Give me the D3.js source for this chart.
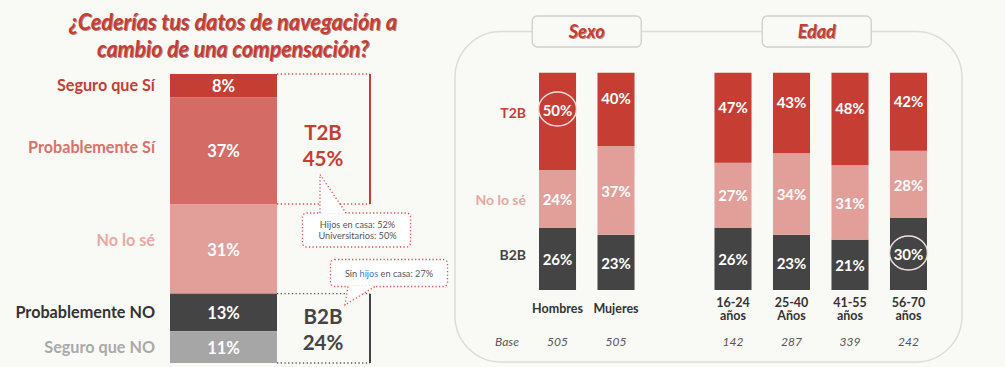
<!DOCTYPE html>
<html><head><meta charset="utf-8">
<script src="https://cdn.jsdelivr.net/npm/d3@7"></script>
<style>
html,body{margin:0;padding:0;background:#f9f9f5;}
svg{display:block;font-family:Lato,"Open Sans",sans-serif;}
</style></head>
<body>
<script>
// ---------- data ----------
const titleLines = ["¿Cederías tus datos de navegación a", "cambio de una compensación?"];
const leftCats = ["Seguro que Sí", "Probablemente Sí", "No lo sé", "Probablemente NO", "Seguro que NO"];
const leftVals = [8, 37, 31, 13, 11];
const t2bLabel = "T2B";
const b2bLabel = "B2B";
const calloutT2B = ["Hijos en casa: 52%", "Universitarios: 50%"];
const calloutB2B = ["Sin ", "hijos", " en casa: 27%"];

const groups = ["Hombres", "Mujeres", "16-24 años", "25-40 Años", "41-55 años", "56-70 años"];
const sections = ["Sexo", "Edad"];
const rowLabels = ["T2B", "No lo sé", "B2B"];
const t2bVals = [50, 40, 47, 43, 48, 42];
const noseVals = [24, 37, 27, 34, 31, 28];
const b2bVals = [26, 23, 26, 23, 21, 30];
const baseLabel = "Base";
const bases = [505, 505, 142, 287, 339, 242];
const highlighted = [{group: 0, row: 0}, {group: 5, row: 2}];

// ---------- styles ----------
const RED = "#c63d33", RED2 = "#d46c65", PINK = "#e29e99", DARK = "#444444", GREY = "#a6a6a6";
const leftColors = [RED, RED2, PINK, DARK, GREY];
const leftLabelColors = [RED, "#d8716a", "#e8a9a4", "#333333", "#a9a9a9"];
const BG = "#f9f9f5";

const W = 1005, H = 367;
const svg = d3.select("body").append("svg").attr("width", W).attr("height", H);
svg.append("rect").attr("width", W).attr("height", H).attr("fill", BG);

// ---------- title ----------
const title = svg.append("g");
const tLens = [328, 272];
titleLines.forEach((t, i) => {
  [["#7b1d17", 1, 0.55], [RED, 0, 1]].forEach(([c, off, op]) => {
    title.append("text")
      .attr("x", 233 + off).attr("y", 30 + i * 27 + off)
      .attr("text-anchor", "middle")
      .attr("textLength", tLens[i]).attr("lengthAdjust", "spacingAndGlyphs")
      .attr("font-size", 23).attr("font-weight", 700).attr("font-style", "italic")
      .attr("fill", c).attr("opacity", op).text(t);
  });
});

// ---------- left stacked bar ----------
const yL = d3.scaleLinear().domain([0, 100]).range([74, 363]);
const barX = 170, barW = 107;
let cum = 0;
const leftData = leftVals.map((v, i) => { const d = {cat: leftCats[i], v, y0: cum, y1: cum + v, i}; cum += v; return d; });

const gl = svg.append("g");
gl.selectAll("rect.seg").data(leftData).join("rect")
  .attr("x", barX).attr("width", barW)
  .attr("y", d => yL(d.y0)).attr("height", d => yL(d.y1) - yL(d.y0))
  .attr("fill", d => leftColors[d.i]);
gl.selectAll("text.val").data(leftData).join("text")
  .attr("x", barX + barW / 2).attr("y", d => yL((d.y0 + d.y1) / 2) + 1)
  .attr("dy", "0.35em").attr("text-anchor", "middle")
  .attr("font-size", 16.5).attr("font-weight", 700).attr("fill", "#fff")
  .text(d => d.v + "%");
gl.selectAll("text.cat").data(leftData).join("text")
  .attr("x", 155).attr("y", d => yL((d.y0 + d.y1) / 2) - (d.i === 2 ? 9 : d.i === 1 ? 3 : 0))
  .attr("dy", "0.35em").attr("text-anchor", "end")
  .attr("font-size", 16.2).attr("font-weight", 700).attr("fill", d => leftLabelColors[d.i])
  .text(d => d.cat);

// brackets
const brX = 370;
const t2bSum = leftVals[0] + leftVals[1];
const b2bSum = leftVals[3] + leftVals[4];
function bracket(v0, v1, color, dotColor) {
  const g = svg.append("g");
  [v0, v1].forEach(v => g.append("line")
    .attr("x1", barX + barW).attr("x2", brX).attr("y1", yL(v)).attr("y2", yL(v))
    .attr("stroke", dotColor).attr("stroke-width", 1.4).attr("stroke-dasharray", "1.3 2.4"));
  g.append("line").attr("x1", brX).attr("x2", brX).attr("y1", yL(v0)).attr("y2", yL(v1))
    .attr("stroke", color).attr("stroke-width", 2);
  return g;
}
bracket(0, t2bSum, RED, "#d24b45");
bracket(100 - b2bSum, 100, DARK, "#555");

function bigLabel(lines, yMid, color) {
  lines.forEach((t, i) => svg.append("text")
    .attr("x", 323).attr("y", yMid + (i - 0.5) * 26).attr("dy", "0.35em")
    .attr("text-anchor", "middle").attr("font-size", 20.5).attr("font-weight", 700)
    .attr("fill", color).text(t));
}
bigLabel([t2bLabel, t2bSum + "%"], yL(t2bSum / 2) + 7, RED);
bigLabel([b2bLabel, b2bSum + "%"], yL(100 - b2bSum / 2) + 1.5, DARK);

// callouts
const dotted = {stroke: "#d9534f", "stroke-width": 1.3, "stroke-dasharray": "1.3 2.2"};
function applyAttrs(sel, o) { Object.entries(o).forEach(([k, v]) => sel.attr(k, v)); return sel; }

// callout 1 (pointing up to T2B)
{
  const g = svg.append("g");
  const bx = 302.5, by = 213, bw = 108, bh = 34;
  applyAttrs(g.append("rect").attr("x", bx).attr("y", by).attr("width", bw).attr("height", bh)
    .attr("rx", 4).attr("fill", "#fff"), dotted);
  g.append("path").attr("d", `M320,${by + 0.8} L320,174.5 L346,${by + 0.8} Z`).attr("fill", "#fff");
  applyAttrs(g.append("path").attr("d", `M320,${by} L320,174.5 L346,${by}`).attr("fill", "none"), dotted);
  calloutT2B.forEach((t, i) => g.append("text")
    .attr("x", bx + bw / 2 + 1).attr("y", by + 15 + i * 11).attr("text-anchor", "middle")
    .attr("font-size", 9.2).attr("fill", "#555").text(t));
}
// callout 2 (pointing down to B2B)
{
  const g = svg.append("g");
  const bx = 330.5, by = 259.5, bw = 117, bh = 27;
  applyAttrs(g.append("rect").attr("x", bx).attr("y", by).attr("width", bw).attr("height", bh)
    .attr("rx", 4).attr("fill", "#fff"), dotted);
  g.append("path").attr("d", `M348,${by + bh - 0.8} L345,305 L375,${by + bh - 0.8} Z`).attr("fill", "#fff");
  applyAttrs(g.append("path").attr("d", `M348,${by + bh} L345,305 L375,${by + bh}`).attr("fill", "none"), dotted);
  const tx = g.append("text").attr("x", bx + bw / 2).attr("y", by + 17).attr("text-anchor", "middle")
    .attr("font-size", 9.2).attr("fill", "#555");
  calloutB2B.forEach((t, i) => tx.append("tspan").attr("fill", i === 1 ? "#3d7bd0" : "#555").text(t));
}

// ---------- right panel ----------
svg.append("rect").attr("x", 455).attr("y", 31.5).attr("width", 507).attr("height", 330.5)
  .attr("rx", 46).attr("fill", BG).attr("stroke", "#dcdcd8").attr("stroke-width", 1.5);

const slots = [groups[0], groups[1], "__gap__", ...groups.slice(2)];
const xR = d3.scaleBand().domain(slots).range([539, 927]).paddingInner(0.367).paddingOuter(0);
const yR = d3.scaleLinear().domain([0, 100]).range([290, 50]);

svg.append("defs").append("clipPath").attr("id", "plotclip")
  .append("rect").attr("x", 460).attr("y", 72.7).attr("width", 495).attr("height", 230);

const series = [b2bVals, noseVals, t2bVals];
const seriesColors = [DARK, PINK, RED];
const rightData = [];
groups.forEach((g, gi) => {
  let c = 0;
  series.forEach((s, si) => {
    rightData.push({g, gi, si, v: s[gi], y0: c, y1: c + s[gi]});
    c += s[gi];
  });
});
const gr = svg.append("g").attr("clip-path", "url(#plotclip)");
gr.selectAll("rect").data(rightData).join("rect")
  .attr("x", d => xR(d.g)).attr("width", xR.bandwidth())
  .attr("y", d => yR(d.y1)).attr("height", d => yR(d.y0) - yR(d.y1))
  .attr("fill", d => seriesColors[d.si]);
svg.append("g").selectAll("text").data(rightData).join("text")
  .attr("x", d => xR(d.g) + xR.bandwidth() / 2).attr("y", d => yR((d.y0 + d.y1) / 2) + 1)
  .attr("dy", "0.35em").attr("text-anchor", "middle")
  .attr("font-size", 15).attr("font-weight", 700).attr("fill", "#fff")
  .text(d => d.v + "%");

// highlight ellipses
highlighted.forEach(h => {
  const d = rightData.find(r => r.gi === h.group && r.si === 2 - h.row);
  svg.append("ellipse").attr("cx", xR(d.g) + xR.bandwidth() / 2).attr("cy", yR((d.y0 + d.y1) / 2) - 1)
    .attr("rx", 19).attr("ry", 17).attr("fill", "none")
    .attr("stroke", h.row === 0 ? "#f4dcd9" : "#f2e0de").attr("stroke-width", 1.5);
});

// row labels (aligned to the first group's segments)
const rowColors = [RED, "#e8a6a0", DARK];
rowLabels.forEach((t, i) => {
  const d = rightData.find(r => r.gi === 0 && r.si === 2 - i);
  svg.append("text").attr("x", 526).attr("y", yR((d.y0 + d.y1) / 2) + (i === 0 ? 3 : i === 2 ? -4 : 1))
    .attr("dy", "0.35em").attr("text-anchor", "end")
    .attr("font-size", 14).attr("font-weight", 700).attr("fill", rowColors[i]).text(t);
});

// category labels
groups.forEach(g => {
  const parts = g.split(" ");
  const cx = xR(g) + xR.bandwidth() / 2;
  parts.forEach((p, i) => svg.append("text")
    .attr("x", cx).attr("y", parts.length === 1 ? 313 : 307 + i * 13)
    .attr("text-anchor", "middle").attr("font-size", 12.5).attr("font-weight", 700)
    .attr("fill", "#333").text(p));
});

// base row
svg.append("text").attr("x", 507).attr("y", 346).attr("text-anchor", "middle")
  .attr("font-size", 12).attr("font-style", "italic").attr("fill", "#555").text(baseLabel);
groups.forEach((g, i) => svg.append("text")
  .attr("x", xR(g) + xR.bandwidth() / 2).attr("y", 346).attr("text-anchor", "middle")
  .attr("font-size", 12).attr("font-style", "italic").attr("fill", "#555").text(bases[i]));

// section headers
const secCenters = [
  (xR(groups[0]) + xR(groups[1]) + xR.bandwidth()) / 2,
  (xR(groups[2]) + xR(groups[5]) + xR.bandwidth()) / 2 - 4
];
sections.forEach((s, i) => {
  const cx = secCenters[i];
  svg.append("rect").attr("x", cx - 54.5).attr("y", 16).attr("width", 109).attr("height", 31)
    .attr("rx", 5).attr("fill", BG).attr("stroke", "#cfcfcb").attr("stroke-width", 1.3);
  [["#7b1d17", 1, 0.5], [RED, 0, 1]].forEach(([c, off, op]) => svg.append("text")
    .attr("x", cx + off).attr("y", 38 + off).attr("text-anchor", "middle")
    .attr("font-size", 18).attr("font-weight", 700).attr("font-style", "italic")
    .attr("fill", c).attr("opacity", op).text(s));
});
</script>
</body></html>
